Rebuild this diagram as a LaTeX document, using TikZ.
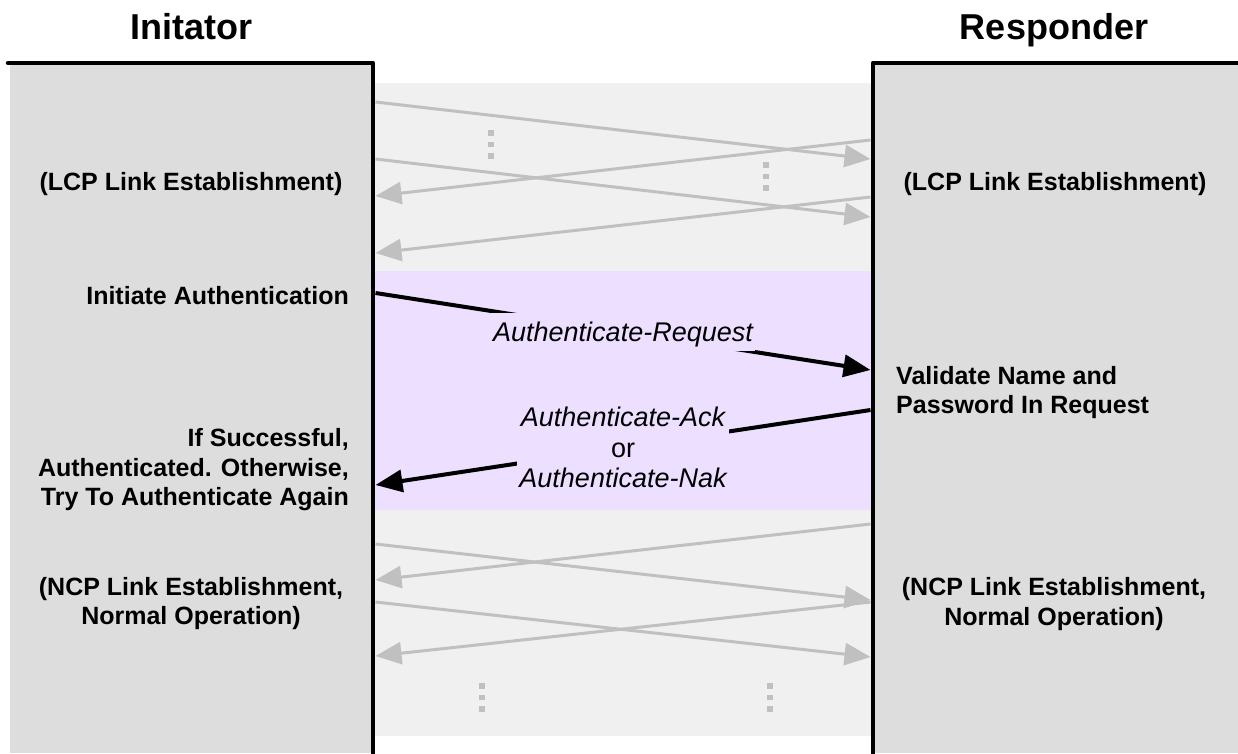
\documentclass[tikz,border=0pt]{standalone}
\usepackage{fontspec}
\setmainfont{Liberation Sans}
\usetikzlibrary{arrows.meta}
\definecolor{boxgray}{RGB}{221,221,221}
\definecolor{bandgray}{RGB}{240,240,240}
\definecolor{bandpurple}{RGB}{237,223,255}
\definecolor{msggray}{RGB}{192,192,192}
\begin{document}
\begin{tikzpicture}[x=1pt,y=-1pt,
  lifeline/.style={line width=4.5pt, line join=round, line cap=round},
  graymsg/.style={draw=msggray, line width=3pt, -{Triangle[length=26pt,width=22pt]}},
  authmsg/.style={draw=black, line width=4pt, -{Triangle[length=27pt,width=22pt]}},
  titletext/.style={font=\fontsize{36}{40}\selectfont\bfseries, anchor=base, inner sep=0pt},
  sidetext/.style={font=\fontsize{25}{29.5}\selectfont\bfseries, inner sep=0pt},
  msglabel/.style={font=\fontsize{27}{30.5}\selectfont\itshape, fill=bandpurple, inner xsep=2pt, inner ysep=7pt},
  dotsq/.style={fill=msggray}
]
\useasboundingbox (0,0) rectangle (1238,753);
% bands
\fill[bandgray] (373,83) rectangle (873,271);
\fill[bandpurple] (373,271) rectangle (873,510);
\fill[bandgray] (373,510) rectangle (873,736);
% boxes
\fill[boxgray] (10,63) rectangle (373,753);
\fill[boxgray] (873,63) rectangle (1238,753);
% endpoints
\coordinate (a1s) at (375.5,102);  \coordinate (a1e) at (870.5,159);
\coordinate (a2s) at (870.5,140);  \coordinate (a2e) at (375.5,196);
\coordinate (a3s) at (375.5,159);  \coordinate (a3e) at (870.5,217);
\coordinate (a4s) at (870.5,197);  \coordinate (a4e) at (375.5,253);
\coordinate (a5s) at (375.5,544);  \coordinate (a5e) at (870.5,600);
\coordinate (a6s) at (870.5,524);  \coordinate (a6e) at (375.5,580);
\coordinate (a7s) at (375.5,602);  \coordinate (a7e) at (870.5,657);
\coordinate (a8s) at (870.5,602);  \coordinate (a8e) at (375.5,656);
\coordinate (reqs) at (375.5,293); \coordinate (reqe) at (870.5,370);
\coordinate (acks) at (870.5,410); \coordinate (acke) at (375.5,485);
% gray messages
\foreach \n in {1,...,8} \draw[graymsg] (a\n s) -- (a\n e);
% dots
\foreach \cx/\ya/\yb/\yc in {491/133/144.5/156, 766/165/176.5/188, 482/686/697.5/709, 770/686/697.5/709}{
  \foreach \cy in {\ya,\yb,\yc}
    \fill[dotsq] ({\cx-2.8},{\cy-2.8}) rectangle ++(5.6,5.6);
}
% auth messages
\draw[authmsg] (reqs) -- node[msglabel, text height=24pt, text depth=4pt, inner ysep=5pt] (lreq) {Authenticate-Request} (reqe);
\draw[authmsg] (acks) -- node[msglabel, align=center] (lack) {Authenticate-Ack\\{\upshape or}\\Authenticate-Nak} (acke);
% lifelines
\draw[lifeline] (8,63) -- (373,63) -- (373,756);
\draw[lifeline] (1242,63) -- (873,63) -- (873,756);
% titles
\node[titletext] (tinit) at (191,39) {Initator};
\node[titletext] (tresp) at (1054,39) {Responder};
% side texts
\node[sidetext, anchor=base] (lcpl) at (191,190) {(LCP Link Establishment)};
\node[sidetext, anchor=base] (lcpr) at (1055,190) {(LCP Link Establishment)};
\node[sidetext, anchor=base east] (init) at (349,304) {Initiate Authentication};
\node[sidetext, anchor=north east, align=right] (succ) at (349,428.5) {If Successful,\\Authenticated. Otherwise,\\Try To Authenticate Again};
\node[sidetext, anchor=north west, align=left] (valid) at (896,366) {Validate Name and\\Password In Request};
\node[sidetext, anchor=north, align=center] (ncpl) at (191,577) {(NCP Link Establishment,\\Normal Operation)};
\node[sidetext, anchor=north, align=center] (ncpr) at (1054,577.5) {(NCP Link Establishment,\\Normal Operation)};
\end{tikzpicture}
\end{document}
